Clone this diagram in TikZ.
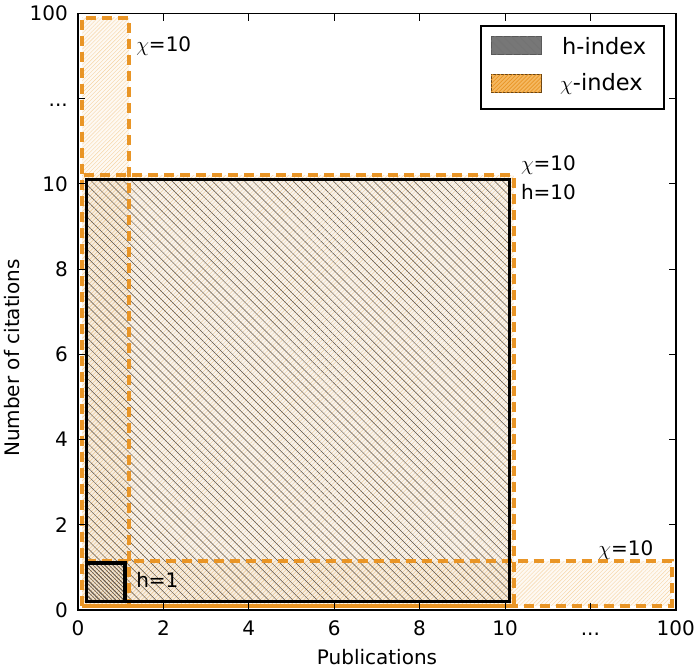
\documentclass[tikz,border=0pt]{standalone}
\usepackage{fontspec}
\setmainfont{DejaVu Sans}
\usetikzlibrary{patterns.meta}
\definecolor{chiedge}{RGB}{233,149,38}
\definecolor{chifill}{RGB}{245,184,96}
\definecolor{chihatch}{RGB}{244,212,165}
\definecolor{hhatch}{RGB}{90,80,70}
\definecolor{legh}{RGB}{119,119,119}
\newcommand{\tickdots}{...}
\tikzset{
  chiarea/.style={fill=chifill, fill opacity=0.08,
    postaction={pattern={Lines[angle=45,distance=2.8pt,line width=0.4pt]}, pattern color=chihatch}},
  chiedge/.style={draw=chiedge, line width=4pt, dash pattern=on 10pt off 6pt},
  harea/.style={fill=gray, fill opacity=0.05,
    postaction={pattern={Lines[angle=-45,distance=#1,line width=0.5pt]}, pattern color=hhatch}},
  hedge/.style={draw=black, line width=3.5pt},
  lbl/.style={inner sep=0pt, anchor=west},
  ticklab/.style={inner sep=0pt, text height=14.5pt, text depth=0pt}
}
\begin{document}
\begin{tikzpicture}[x=1pt,y=1pt,font=\fontsize{20}{24}\selectfont]
\useasboundingbox (0,0) rectangle (700,670);
\begin{scope}[shift={(78pt,60pt)}, x=42.7pt, y=42.6pt]
  % chi areas
  \path[chiarea] (0.1,0.1) rectangle (10.2,10.2);
  \path[chiarea] (0.1,0.1) rectangle (1.2,13.9);
  \path[chiarea] (0.1,0.1) rectangle (13.9,1.15);
  % h areas
  \path[harea=5.7pt] (0.2,0.2) rectangle (10.1,10.1);
  \path[harea=2.8pt] (0.2,0.2) rectangle (1.1,1.1);
  % chi edges
  \draw[chiedge] (0.1,0.1) rectangle (10.2,10.2);
  \draw[chiedge] (0.1,0.1) rectangle (1.2,13.9);
  \draw[chiedge] (0.1,0.1) rectangle (13.9,1.15);
  % h edges
  \draw[hedge] (0.2,0.2) rectangle (10.1,10.1);
  \draw[hedge] (0.2,0.2) rectangle (1.1,1.1);
  % frame
  \draw[line width=1.5pt] (0,0) rectangle (14,14);
  \foreach \v/\t in {0/0,2/2,4/4,6/6,8/8,10/10,12/\tickdots,14/100}{
    \draw[line width=1pt] (\v,0) -- ++(0,7pt);
    \draw[line width=1pt] (\v,14) -- ++(0,-7pt);
    \draw[line width=1pt] (0,\v) -- ++(7pt,0);
    \draw[line width=1pt] (14,\v) -- ++(-7pt,0);
    \node[ticklab, anchor=north] (xt\v) at ([yshift=-11pt]\v,0) {\t};
    \node[ticklab, anchor=east] (yt\v) at ([xshift=-10pt]0,\v) {\t};
  }
  % annotations
  \node[lbl] (c1) at (1.36,13.24) {$\chi$=10};
  \node[lbl] (c2) at (10.37,10.45) {$\chi$=10};
  \node[lbl] (h10) at (10.37,9.81) {h=10};
  \node[lbl] (h1) at (1.36,0.70) {h=1};
  \node[lbl] (c3) at (12.18,1.41) {$\chi$=10};
\end{scope}
% axis titles
\node (xlab) at (377,13) {Publications};
\node[rotate=90] (ylab) at (12,312) {Number of citations};
% legend
\draw[line width=1.5pt, fill=white] (481,561) rectangle (664,644);
\path[fill=legh, draw=black!65, line width=1pt,
  postaction={pattern={Lines[angle=-45,distance=5.7pt,line width=0.8pt]}, pattern color=black!55}]
  (491,615) rectangle (541,633);
\path[fill=chifill, draw=black!55!chiedge, line width=1pt,
  postaction={pattern={Lines[angle=45,distance=2.8pt,line width=0.7pt]}, pattern color=chiedge}]
  (491,577) rectangle (541,595);
\node[lbl, font=\fontsize{22.5}{26}\selectfont] (lh) at (562,624) {h-index};
\node[lbl, font=\fontsize{22.5}{26}\selectfont] (lc) at (560,586) {$\chi$-index};
\end{tikzpicture}
\end{document}
